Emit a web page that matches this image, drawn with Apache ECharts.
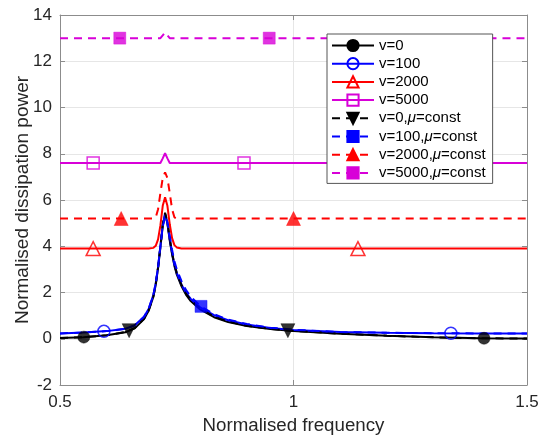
<!DOCTYPE html>
<html>
<head>
<meta charset="utf-8">
<title>Normalised dissipation power</title>
<script src="https://cdn.jsdelivr.net/npm/echarts@6/dist/echarts.min.js"></script>
<style>
  html, body { margin: 0; padding: 0; background: #fff; }
  #chart { width: 540px; height: 435px; }
</style>
</head>
<body>
<div id="chart"></div>
<script>
// Normalised frequency sample points (denser around the resonance)
const freq = [0.50, 0.55, 0.60, 0.64, 0.66, 0.68, 0.69, 0.70, 0.705, 0.71, 0.715, 0.72, 0.725, 0.73, 0.735,
              0.74, 0.745, 0.75, 0.76, 0.77, 0.78, 0.80, 0.83, 0.86, 0.90, 0.95, 1.00, 1.10, 1.20, 1.30, 1.40, 1.50];

// Normalised dissipation power for each case
const powV0 = [0.03, 0.07, 0.15, 0.28, 0.45, 0.85, 1.22, 1.82, 2.33, 3.05, 3.95, 4.88, 5.40, 4.98, 4.25,
               3.65, 3.15, 2.78, 2.28, 1.90, 1.63, 1.27, 0.93, 0.72, 0.55, 0.42, 0.33, 0.22, 0.13, 0.06, 0.02, 0.01];
const powV100 = [0.23, 0.27, 0.33, 0.43, 0.58, 0.95, 1.30, 1.90, 2.40, 3.10, 4.00, 4.90, 5.40, 5.00, 4.30,
                 3.70, 3.20, 2.85, 2.35, 1.98, 1.72, 1.36, 1.02, 0.80, 0.62, 0.47, 0.38, 0.29, 0.26, 0.24, 0.23, 0.23];
const powV2000 = [3.90, 3.90, 3.90, 3.90, 3.90, 3.90, 3.90, 3.93, 4.02, 4.30, 4.90, 5.75, 6.12, 5.75, 4.95,
                  4.35, 4.05, 3.95, 3.90, 3.90, 3.90, 3.90, 3.90, 3.90, 3.90, 3.90, 3.90, 3.90, 3.90, 3.90, 3.90, 3.90];
const powV5000 = [7.60, 7.60, 7.60, 7.60, 7.60, 7.60, 7.60, 7.60, 7.60, 7.60, 7.60, 7.80, 8.02, 7.80, 7.60,
                  7.60, 7.60, 7.60, 7.60, 7.60, 7.60, 7.60, 7.60, 7.60, 7.60, 7.60, 7.60, 7.60, 7.60, 7.60, 7.60, 7.60];
const powV0Const = [0.03, 0.07, 0.15, 0.29, 0.46, 0.86, 1.23, 1.84, 2.35, 3.08, 4.00, 4.95, 5.45, 5.05, 4.32,
                    3.72, 3.22, 2.85, 2.34, 1.95, 1.68, 1.31, 0.96, 0.74, 0.56, 0.43, 0.34, 0.22, 0.13, 0.06, 0.02, 0.01];
const powV100Const = [0.23, 0.27, 0.33, 0.43, 0.58, 0.95, 1.30, 1.90, 2.40, 3.10, 4.00, 4.85, 5.30, 5.05, 4.45,
                      3.85, 3.35, 3.00, 2.50, 2.10, 1.82, 1.42, 1.06, 0.83, 0.64, 0.48, 0.39, 0.29, 0.26, 0.24, 0.23, 0.23];
const powV2000Const = [5.20, 5.20, 5.20, 5.20, 5.20, 5.20, 5.20, 5.20, 5.25, 5.60, 6.30, 6.95, 7.20, 6.95, 6.30,
                       5.60, 5.25, 5.20, 5.20, 5.20, 5.20, 5.20, 5.20, 5.20, 5.20, 5.20, 5.20, 5.20, 5.20, 5.20, 5.20, 5.20];
const powV5000Const = [13.0, 13.0, 13.0, 13.0, 13.0, 13.0, 13.0, 13.0, 13.0, 13.0, 13.0, 13.12, 13.25, 13.12, 13.0,
                       13.0, 13.0, 13.0, 13.0, 13.0, 13.0, 13.0, 13.0, 13.0, 13.0, 13.0, 13.0, 13.0, 13.0, 13.0, 13.0, 13.0];

// Marker positions [frequency, power] along each curve
const mkV0 = [[0.551, 0.07], [1.408, 0.02]];
const mkV100 = [[0.594, 0.32], [1.337, 0.24]];
const mkV2000 = [[0.571, 3.90], [1.138, 3.90]];
const mkV5000 = [[0.571, 7.60], [0.894, 7.60]];
const mkV0Const = [[0.648, 0.35], [0.988, 0.35]];
const mkV100Const = [[0.802, 1.40]];
const mkV2000Const = [[0.631, 5.20], [1.000, 5.20]];
const mkV5000Const = [[0.628, 13.0], [0.948, 13.0]];

// Legend labels and axis ticks
const seriesNames = ['v=0', 'v=100', 'v=2000', 'v=5000',
                     'v=0,μ=const', 'v=100,μ=const', 'v=2000,μ=const', 'v=5000,μ=const'];
const xTicks = { min: 0.5, max: 1.5, step: 0.5 };
const yTicks = { min: -2, max: 14, step: 2 };

const FONT = '"Liberation Sans", Arial, Helvetica, sans-serif';
const BLACK = '#000000', BLUE = '#0000ff', RED = '#ff0000', MAG = '#d800d8';
const DASH = [8, 6];

function pairs(ys) { return freq.map((f, i) => [f, ys[i]]); }

// style per curve: colour, dashed?, marker, hollow?, marker size, rotation
const curves = [
  { name: seriesNames[0], ys: powV0, mk: mkV0, color: BLACK, dash: false, symbol: 'circle', hollow: false, size: 12, rot: 0 },
  { name: seriesNames[1], ys: powV100, mk: mkV100, color: BLUE, dash: false, symbol: 'circle', hollow: true, size: 12, rot: 0 },
  { name: seriesNames[2], ys: powV2000, mk: mkV2000, color: RED, dash: false, symbol: 'triangle', hollow: true, size: 14, rot: 0 },
  { name: seriesNames[3], ys: powV5000, mk: mkV5000, color: MAG, dash: false, symbol: 'rect', hollow: true, size: 12, rot: 0 },
  { name: seriesNames[4], ys: powV0Const, mk: mkV0Const, color: BLACK, dash: true, symbol: 'triangle', hollow: false, size: 14, rot: 180 },
  { name: seriesNames[5], ys: powV100Const, mk: mkV100Const, color: BLUE, dash: true, symbol: 'rect', hollow: false, size: 12, rot: 0 },
  { name: seriesNames[6], ys: powV2000Const, mk: mkV2000Const, color: RED, dash: true, symbol: 'triangle', hollow: false, size: 14, rot: 0 },
  { name: seriesNames[7], ys: powV5000Const, mk: mkV5000Const, color: MAG, dash: true, symbol: 'rect', hollow: false, size: 12, rot: 0 }
];

const series = [];
curves.forEach((c, i) => {
  const itemStyle = c.hollow
    ? { color: 'rgba(255,255,255,0)', borderColor: c.color, borderWidth: 1.5 }
    : { color: c.color, borderColor: c.color, borderWidth: 0.5 };
  series.push({
    name: c.name,
    type: 'line',
    data: pairs(c.ys),
    showSymbol: false,
    symbol: c.symbol,
    symbolSize: c.size,
    symbolRotate: c.rot,
    itemStyle: itemStyle,
    lineStyle: { color: c.color, width: 2, type: c.dash ? DASH : 'solid' },
    z: 3 + i,
    emphasis: { disabled: true }
  });
  series.push({
    name: c.name + ' markers',
    type: 'scatter',
    data: c.mk,
    symbol: c.symbol,
    symbolSize: c.size,
    symbolRotate: c.rot,
    itemStyle: itemStyle,
    z: 20 + i,
    emphasis: { disabled: true }
  });
});

const boxColor = '#8c8c8c';
const textColor = '#262626';

const chart = echarts.init(document.getElementById('chart'), null, { renderer: 'canvas' });
chart.setOption({
  animation: false,
  backgroundColor: '#ffffff',
  textStyle: { fontFamily: FONT },
  grid: { left: 60, top: 15, right: 13, bottom: 50, containLabel: false, outerBoundsMode: 'none' },
  legend: {
    data: seriesNames,
    orient: 'vertical',
    left: 327,
    top: 34,
    itemWidth: 42,
    itemHeight: 14,
    itemGap: 3.2,
    itemTextGap: 3,
    padding: [4, 7, 3, 4],
    backgroundColor: '#ffffff',
    borderColor: '#555555',
    borderWidth: 1,
    selectedMode: false,
    z: 50,
    formatter: function (n) { return n.replace('μ', '{it|μ}'); },
    textStyle: {
      fontSize: 15, color: '#000', fontFamily: FONT,
      rich: { it: { fontStyle: 'italic', fontSize: 15, fontFamily: FONT, color: '#000' } }
    }
  },
  xAxis: [
    {
      type: 'value', position: 'bottom',
      min: xTicks.min, max: xTicks.max, interval: xTicks.step,
      name: 'Normalised frequency', nameLocation: 'middle', nameGap: 27,
      nameTextStyle: { fontSize: 18.7, color: textColor, fontFamily: FONT },
      axisLine: { show: true, onZero: false, lineStyle: { color: boxColor, width: 1 } },
      axisTick: { show: true, inside: true, length: 5, lineStyle: { color: boxColor } },
      axisLabel: { fontSize: 17, color: textColor, margin: 9, fontFamily: FONT },
      splitLine: { show: true, lineStyle: { color: '#e6e6e6', width: 1 } }
    },
    {
      type: 'value', position: 'top',
      min: xTicks.min, max: xTicks.max, interval: xTicks.step,
      axisLine: { show: true, onZero: false, lineStyle: { color: boxColor, width: 1 } },
      axisTick: { show: true, inside: true, length: 5, lineStyle: { color: boxColor } },
      axisLabel: { show: false },
      splitLine: { show: false }
    }
  ],
  yAxis: [
    {
      type: 'value', position: 'left',
      min: yTicks.min, max: yTicks.max, interval: yTicks.step,
      name: 'Normalised dissipation power', nameLocation: 'middle', nameGap: 28, nameRotate: 90,
      nameMoveOverlap: false,
      nameTextStyle: { fontSize: 19, color: textColor, fontFamily: FONT },
      axisLine: { show: true, onZero: false, lineStyle: { color: boxColor, width: 1 } },
      axisTick: { show: true, inside: true, length: 5, lineStyle: { color: boxColor } },
      axisLabel: { fontSize: 17, color: textColor, margin: 8, fontFamily: FONT },
      splitLine: { show: true, lineStyle: { color: '#e6e6e6', width: 1 } }
    },
    {
      type: 'value', position: 'right',
      min: yTicks.min, max: yTicks.max, interval: yTicks.step,
      axisLine: { show: true, onZero: false, lineStyle: { color: boxColor, width: 1 } },
      axisTick: { show: true, inside: true, length: 5, lineStyle: { color: boxColor } },
      axisLabel: { show: false },
      splitLine: { show: false }
    }
  ],
  series: series
});
</script>
</body>
</html>
